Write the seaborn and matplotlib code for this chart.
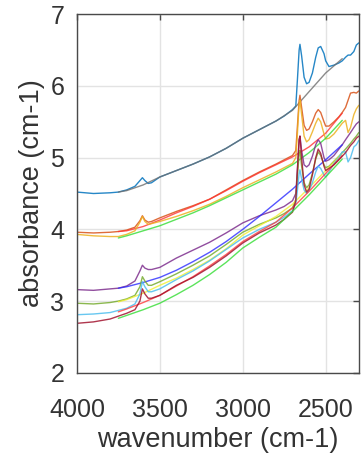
import pandas as pd
import matplotlib
matplotlib.use("Agg")
import matplotlib.pyplot as plt
import seaborn as sns

# ---------------------------
# 1. Data
# ---------------------------
wn_spec = [4000, 3900, 3800, 3750, 3700, 3650, 3620, 3605, 3590, 3570, 3550, 3500,
           3400, 3300, 3200, 3100, 3000, 2900, 2800, 2750, 2700, 2680, 2670, 2660,
           2655, 2645, 2630, 2615, 2600, 2580, 2560, 2545, 2530, 2510, 2500, 2480,
           2450, 2420, 2400, 2380, 2365, 2350, 2330, 2315, 2300]

spec_blue = [4.52, 4.50, 4.51, 4.52, 4.55, 4.60, 4.68, 4.72, 4.68, 4.64, 4.65, 4.73,
             4.82, 4.91, 5.01, 5.13, 5.27, 5.39, 5.51, 5.58, 5.67, 5.72, 6.10, 6.50,
             6.58, 6.42, 6.12, 6.03, 6.05, 6.18, 6.40, 6.53, 6.55, 6.45, 6.35, 6.27,
             6.29, 6.32, 6.35, 6.40, 6.43, 6.43, 6.48, 6.57, 6.60]
spec_orange = [3.96, 3.95, 3.96, 3.97, 3.99, 4.03, 4.12, 4.19, 4.13, 4.10, 4.11, 4.16,
               4.25, 4.33, 4.42, 4.55, 4.68, 4.80, 4.91, 4.97, 5.03, 5.10, 5.45, 5.80,
               5.87, 5.70, 5.45, 5.38, 5.40, 5.50, 5.62, 5.67, 5.63, 5.50, 5.44, 5.44,
               5.50, 5.57, 5.63, 5.70, 5.80, 5.90, 5.91, 5.90, 5.93]
spec_yellow = [3.93, 3.91, 3.90, 3.90, 3.93, 3.98, 4.10, 4.18, 4.11, 4.07, 4.08, 4.11,
               4.18, 4.26, 4.35, 4.46, 4.58, 4.69, 4.80, 4.86, 4.92, 5.00, 5.35, 5.75,
               5.80, 5.60, 5.30, 5.22, 5.25, 5.36, 5.48, 5.55, 5.50, 5.33, 5.26, 5.27,
               5.33, 5.42, 5.48, 5.52, 5.35, 5.42, 5.60, 5.68, 5.73]
spec_purple = [3.16, 3.15, 3.17, 3.18, 3.21, 3.28, 3.42, 3.50, 3.46, 3.44, 3.44, 3.47,
               3.60, 3.71, 3.82, 3.95, 4.09, 4.19, 4.27, 4.32, 4.40, 4.50, 4.85, 5.25,
               5.30, 5.10, 4.90, 4.87, 4.90, 5.02, 5.18, 5.25, 5.20, 5.00, 4.95, 4.97,
               5.03, 5.12, 5.18, 5.25, 5.30, 5.35, 5.42, 5.47, 5.50]
spec_olive = [2.97, 2.96, 2.98, 3.00, 3.03, 3.08, 3.20, 3.34, 3.28, 3.22, 3.22, 3.27,
              3.38, 3.50, 3.63, 3.79, 3.96, 4.07, 4.16, 4.22, 4.30, 4.42, 4.75, 5.05,
              5.10, 4.88, 4.65, 4.58, 4.62, 4.78, 4.98, 5.08, 5.03, 4.90, 4.86, 4.88,
              4.95, 5.02, 5.07, 5.12, 5.16, 5.20, 5.26, 5.30, 5.35]
spec_lightblue = [2.81, 2.82, 2.84, 2.87, 2.90, 2.96, 3.10, 3.27, 3.20, 3.13, 3.13, 3.17,
                  3.30, 3.42, 3.56, 3.72, 3.88, 4.00, 4.10, 4.17, 4.26, 4.36, 4.55, 4.78,
                  4.83, 4.70, 4.55, 4.50, 4.54, 4.65, 4.80, 4.88, 4.85, 4.76, 4.73, 4.80,
                  4.92, 5.00, 5.08, 5.08, 4.94, 5.00, 5.15, 5.18, 5.24]
spec_darkred = [2.69, 2.71, 2.75, 2.79, 2.83, 2.88, 3.00, 3.17, 3.10, 3.04, 3.04, 3.08,
                3.22, 3.33, 3.47, 3.63, 3.81, 3.95, 4.06, 4.14, 4.24, 4.40, 4.85, 5.25,
                5.30, 5.00, 4.62, 4.52, 4.56, 4.76, 5.00, 5.12, 5.06, 4.88, 4.82, 4.85,
                4.90, 4.97, 5.02, 5.07, 5.12, 5.17, 5.22, 5.27, 5.30]

wn_base = [3750, 3700, 3600, 3500, 3400, 3300, 3200, 3100, 3000, 2900, 2800, 2700,
           2600, 2500, 2400]
base_gray = [4.52, 4.54, 4.62, 4.73, 4.82, 4.91, 5.01, 5.13, 5.27, 5.39, 5.51, 5.66, 5.92, 6.18, 6.38]
base_red1 = [3.97, 3.98, 4.04, 4.13, 4.23, 4.32, 4.42, 4.54, 4.67, 4.79, 4.90, 5.01, 5.15, 5.34, 5.62]
base_green1 = [3.88, 3.91, 3.98, 4.05, 4.14, 4.23, 4.33, 4.44, 4.55, 4.66, 4.77, 4.90, 5.07, 5.27, 5.52]
base_blue = [3.18, 3.20, 3.26, 3.33, 3.43, 3.55, 3.68, 3.83, 4.00, 4.18, 4.37, 4.56, 4.77, 4.97, 5.18]
base_yellow = [2.99, 3.02, 3.11, 3.22, 3.32, 3.44, 3.57, 3.73, 3.92, 4.05, 4.18, 4.35, 4.58, 4.82, 5.06]
base_red2 = [2.85, 2.89, 2.98, 3.08, 3.21, 3.34, 3.49, 3.65, 3.83, 3.97, 4.10, 4.30, 4.53, 4.78, 5.03]
base_green2 = [2.76, 2.80, 2.88, 2.97, 3.09, 3.22, 3.37, 3.54, 3.74, 3.89, 4.03, 4.25, 4.48, 4.73, 4.98]

# spectrum / fitted baseline pairs
pairs = [
    (spec_blue, "#0072BD", base_gray, "#6e6e6e"),
    (spec_orange, "#D95319", base_red1, "#ff3333"),
    (spec_yellow, "#EDB120", base_green1, "#33dd33"),
    (spec_purple, "#7E2F8E", base_blue, "#2a2aff"),
    (spec_olive, "#77AC30", base_yellow, "#f0f030"),
    (spec_lightblue, "#4DBEEE", base_red2, "#ff3a3a"),
    (spec_darkred, "#A2142F", base_green2, "#33dd33"),
]

# ---------------------------
# 2. Plot
# ---------------------------
sns.set_style("whitegrid")
plt.rcParams['font.family'] = ['Liberation Sans', 'DejaVu Sans']

fig = plt.figure(figsize=(3.61, 4.58), dpi=100)
ax = fig.add_axes([0.213, 0.186, 0.781, 0.783])

for spec, c_spec, base, c_base in pairs:
    df_s = pd.DataFrame({"wn": wn_spec, "abs": spec})
    df_b = pd.DataFrame({"wn": wn_base, "abs": base})
    sns.lineplot(data=df_s, x="wn", y="abs", color=c_spec, lw=1.0, alpha=0.85, ax=ax)
    sns.lineplot(data=df_b, x="wn", y="abs", color=c_base, lw=1.0, alpha=0.8, ax=ax)

ax.set_xlim(4000, 2300)
ax.set_ylim(2, 7)
ax.set_xticks([4000, 3500, 3000, 2500])
ax.set_yticks([2, 3, 4, 5, 6, 7])
ax.grid(True, color="#e3e3e3", lw=1.0)
for s in ax.spines.values():
    s.set_visible(True)
    s.set_color("#4a4a4a")
    s.set_linewidth(1.0)
ax.tick_params(direction="in", length=4, width=1, color="#4a4a4a",
               top=True, right=True, labelsize=18, labelcolor="#333333")
ax.tick_params(axis="x", pad=18)
ax.tick_params(axis="y", pad=9)
ax.set_xlabel("wavenumber (cm-1)", fontsize=19.5, color="#333333", labelpad=4)
ax.set_ylabel("absorbance (cm-1)", fontsize=19.5, color="#333333", labelpad=4)

fig.savefig("out.png", dpi=100)
